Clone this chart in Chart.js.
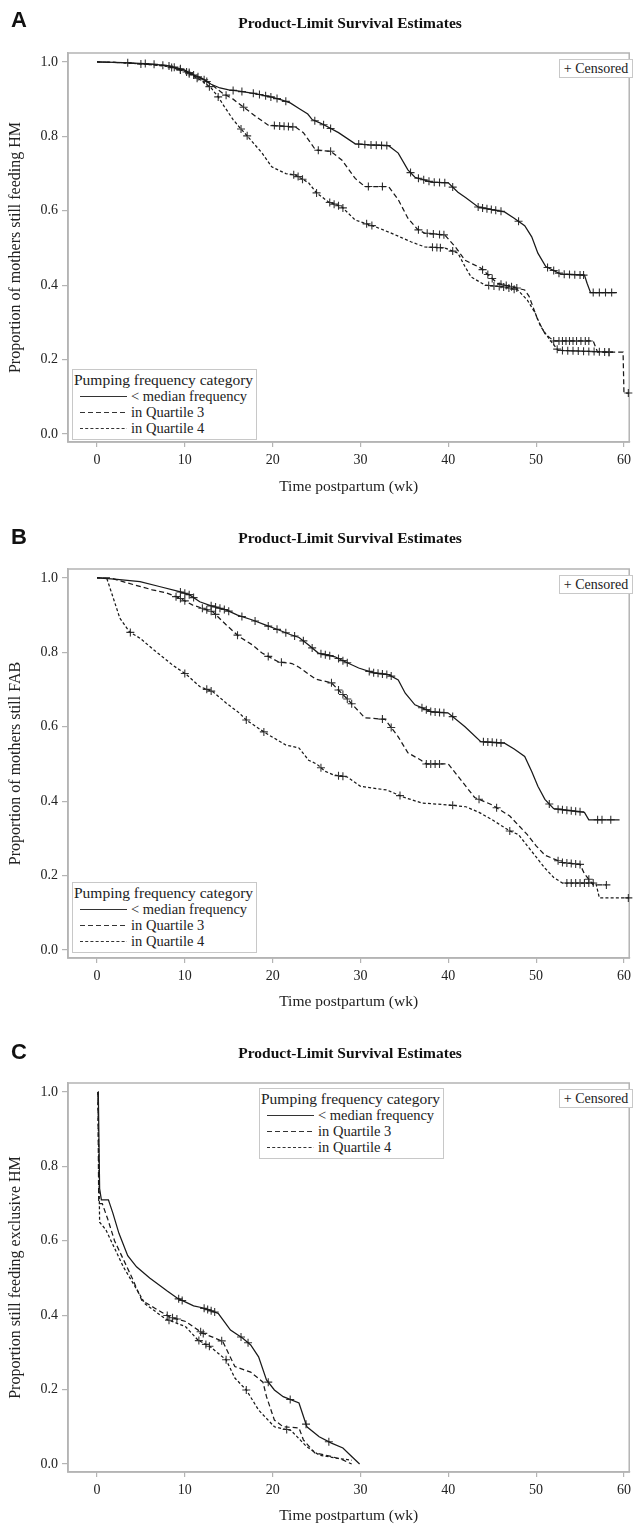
<!DOCTYPE html>
<html>
<head>
<meta charset="utf-8">
<script src="https://cdn.jsdelivr.net/npm/chart.js@4.4.1/dist/chart.umd.min.js"></script>
<style>
  html, body { margin: 0; padding: 0; background: #fff; }
  #page { position: relative; width: 636px; height: 1525px; overflow: hidden; }
  .panel { position: absolute; left: 0; width: 636px; }
  .panel canvas { position: absolute; left: 0; top: 0; }
  .letter { position: absolute; left: 11px; font: bold 22px "Liberation Sans", Arial, sans-serif; color: #111; line-height: 24px; }
  .title { position: absolute; left: 150px; width: 400px; text-align: center; font: bold 15.5px "Liberation Serif", serif; color: #111; line-height: 18px; }
  .censbox { position: absolute; left: 559px; width: 72px; height: 17px; border: 1px solid #c8c8c8; background: #fff;
             font: 14px "Liberation Serif", serif; color: #222; line-height: 17px; text-align: center; }
  .legend { position: absolute; width: 183px; height: 69px; border: 1px solid #c8c8c8; background: #fff;
            font: 14.5px "Liberation Serif", serif; color: #222; }
  .legend .lt { position: absolute; left: 1px; top: 2px; font-size: 15.5px; line-height: 16px; white-space: nowrap; }
  .legend .row { position: absolute; left: 6px; height: 16px; line-height: 16px; white-space: nowrap; }
  .legend svg { position: absolute; left: 0; top: 0; }
  .legend .row span { position: absolute; left: 52px; top: 0; }
</style>
</head>
<body>
<div id="page"></div>
<script>
// Product-Limit Survival Estimates, three panels (A: any HM, B: FAB, C: exclusive HM)

const groupNames = ['< median frequency', 'in Quartile 3', 'in Quartile 4'];
const xTicks = [0, 10, 20, 30, 40, 50, 60];
const yTicks = [0, 0.2, 0.4, 0.6, 0.8, 1.0];

// Panel A - still feeding HM
const timeA1 = [0, 3, 6, 8, 9, 10, 11, 12, 13, 14, 15, 16, 18, 20, 21, 22, 23, 24, 24.5, 25.5, 27.5, 29.4, 31, 33.2, 34.3, 35.4, 36.2, 38.1, 40, 41.1, 42, 43.4, 44.5, 46.4, 47.5, 48.7, 49.5, 50.2, 51.1, 52.8, 55.5, 55.8, 56.2, 59.2];
const survA1 = [1, 0.998, 0.995, 0.99, 0.985, 0.978, 0.965, 0.955, 0.94, 0.93, 0.925, 0.922, 0.915, 0.905, 0.898, 0.89, 0.875, 0.86, 0.845, 0.835, 0.81, 0.78, 0.777, 0.775, 0.755, 0.71, 0.69, 0.677, 0.675, 0.65, 0.635, 0.61, 0.605, 0.597, 0.58, 0.56, 0.53, 0.486, 0.45, 0.43, 0.427, 0.405, 0.38, 0.38];
const timeA2 = [0, 3, 6, 8, 10, 11, 12, 13, 14.3, 15.5, 16.6, 18, 19.5, 22.6, 23.5, 24.9, 26.6, 27.9, 29.4, 30.5, 33.2, 34.3, 35.4, 36.5, 37.3, 39.6, 40.8, 41.9, 43.7, 45.6, 48.7, 49.2, 50.2, 51, 52, 56.5, 57, 59.9, 60, 60.6];
const survA2 = [1, 0.998, 0.993, 0.99, 0.975, 0.965, 0.955, 0.94, 0.916, 0.9, 0.88, 0.855, 0.83, 0.825, 0.81, 0.763, 0.76, 0.736, 0.687, 0.665, 0.665, 0.63, 0.58, 0.55, 0.54, 0.535, 0.503, 0.467, 0.446, 0.405, 0.387, 0.37, 0.306, 0.27, 0.25, 0.25, 0.22, 0.22, 0.11, 0.11];
const timeA3 = [0, 3, 6, 8, 10, 11, 12, 13, 13.8, 14.5, 15.5, 16.2, 17, 18.8, 19.9, 21.5, 22.6, 24.1, 25, 26.4, 27.9, 29.4, 31.7, 33.5, 35.8, 37.3, 39.6, 41.1, 41.9, 42.6, 44.2, 46.4, 47.9, 49, 49.9, 50.5, 51.5, 52.5, 58.3];
const survA3 = [1, 0.998, 0.993, 0.988, 0.975, 0.962, 0.948, 0.93, 0.906, 0.88, 0.845, 0.825, 0.804, 0.755, 0.718, 0.7, 0.696, 0.675, 0.648, 0.623, 0.61, 0.575, 0.557, 0.54, 0.516, 0.503, 0.5, 0.486, 0.45, 0.422, 0.4, 0.395, 0.387, 0.36, 0.325, 0.29, 0.255, 0.225, 0.22];
const censA1 = [3.5, 5.5, 6.5, 7.5, 8.2, 8.8, 9.5, 10.5, 11.5, 12.2, 15.5, 16.5, 17.8, 18.5, 19.2, 19.8, 20.5, 21.5, 24.8, 25.8, 26.6, 29.8, 30.5, 31.2, 31.8, 32.4, 33, 35.7, 36.6, 37.2, 37.8, 38.4, 39, 39.6, 40.5, 43.4, 43.9, 44.4, 44.9, 45.4, 46, 48, 51.3, 52, 52.6, 53.2, 53.8, 54.4, 55, 55.4, 56.5, 57.2, 57.9, 58.6];
const censA2 = [5, 9.5, 10.2, 11, 12.5, 14.7, 16.7, 20.2, 20.8, 21.3, 21.8, 22.3, 25.2, 26.6, 30.9, 32.5, 36.6, 37.6, 38.3, 39, 39.5, 43.9, 44.5, 45, 46, 46.6, 47.2, 47.8, 52, 52.6, 53, 53.4, 53.8, 54.2, 54.6, 55.1, 55.6, 56, 58.3, 60.5];
const censA3 = [8.5, 9.5, 10.5, 11.4, 12.8, 13.8, 16.4, 17.1, 22.4, 22.9, 23.4, 25, 26.5, 27, 27.5, 28, 30.7, 31.3, 38.2, 38.7, 39.1, 40.5, 44.6, 45.2, 45.8, 46.3, 46.9, 47.5, 52.4, 53, 53.6, 54.2, 54.8, 55.4, 56, 56.6, 57.2, 57.8, 58.3];

// Panel B - still FAB
const timeB1 = [0, 2, 4.9, 7.1, 9.4, 10.5, 11.7, 13, 14.7, 16, 17.7, 19, 20.7, 22, 23, 24.1, 25.2, 27.1, 28.5, 29.8, 31.5, 33.2, 34.3, 35.1, 36.2, 38.1, 40, 41.9, 43.7, 46.4, 47.5, 48.7, 49.5, 50.2, 51, 52, 55.5, 56, 59.5];
const survB1 = [1, 0.997, 0.99, 0.977, 0.963, 0.955, 0.936, 0.925, 0.914, 0.9, 0.887, 0.875, 0.86, 0.848, 0.84, 0.82, 0.798, 0.788, 0.772, 0.758, 0.745, 0.74, 0.726, 0.69, 0.659, 0.64, 0.637, 0.6, 0.56, 0.556, 0.54, 0.52, 0.48, 0.44, 0.405, 0.38, 0.37, 0.35, 0.35];
const timeB2 = [0, 1.5, 3.4, 6.3, 7.9, 9.4, 10.9, 13.2, 14.7, 16.2, 17.7, 18.8, 20.7, 22.2, 23, 24.9, 26.7, 28.6, 30.5, 32.8, 34.3, 35.4, 36.9, 37.5, 40, 41, 43, 45, 47, 48, 49, 50, 51, 52, 53, 55, 55.5, 56, 56.5, 58];
const survB2 = [1, 1, 0.987, 0.968, 0.96, 0.946, 0.927, 0.909, 0.874, 0.842, 0.82, 0.798, 0.774, 0.77, 0.76, 0.728, 0.718, 0.672, 0.624, 0.62, 0.573, 0.53, 0.51, 0.5, 0.5, 0.47, 0.41, 0.39, 0.36, 0.335, 0.31, 0.28, 0.255, 0.245, 0.235, 0.23, 0.205, 0.19, 0.175, 0.175];
const timeB3 = [0, 1.1, 1.8, 2.6, 3.7, 4.9, 6.3, 8.6, 10.2, 11.7, 13.2, 14.7, 16.2, 17, 19.2, 21.5, 23, 24.1, 25, 26, 27, 28.5, 30, 33, 35, 37, 40, 42, 43.5, 45, 47, 48, 49, 50, 51, 52, 53, 56.8, 57.2, 60.6];
const survB3 = [1, 1, 0.95, 0.892, 0.855, 0.838, 0.81, 0.766, 0.74, 0.708, 0.694, 0.664, 0.637, 0.618, 0.583, 0.551, 0.543, 0.51, 0.5, 0.48, 0.47, 0.465, 0.44, 0.43, 0.41, 0.395, 0.39, 0.385, 0.37, 0.35, 0.32, 0.31, 0.28, 0.25, 0.22, 0.195, 0.18, 0.18, 0.14, 0.14];
const censB1 = [9.5, 10, 10.5, 11, 13, 13.5, 14, 14.5, 15, 16.5, 18, 19.5, 20.5, 21.5, 22.5, 23.5, 24.5, 25.5, 26, 26.5, 27.5, 28, 28.5, 31, 31.5, 32, 32.5, 33, 33.5, 37, 37.5, 38, 38.5, 39, 39.5, 40.5, 44, 44.5, 45, 45.5, 46, 51.5, 52.5, 53, 53.5, 54, 54.5, 55, 57, 57.5, 58.5];
const censB2 = [9, 9.5, 10, 12, 12.5, 13, 13.5, 16, 19.5, 21, 26.7, 27.5, 28, 28.5, 29, 32.5, 33.5, 37.5, 38, 38.5, 39, 43.5, 45.5, 52.5, 53, 53.5, 54, 54.5, 55, 56, 58];
const censB3 = [3.8, 10, 12.5, 13, 17, 19, 25.5, 27.5, 28, 34.5, 40.5, 47, 53.5, 54, 54.5, 55, 55.5, 56, 56.5, 60.5];

// Panel C - still feeding exclusive HM
const timeC1 = [0.1, 0.15, 0.3, 0.5, 1.3, 1.8, 2.5, 3.5, 4.5, 6, 8, 9.2, 11, 12, 13.8, 15.2, 16.6, 17.5, 18.4, 19.3, 20.2, 21.2, 23, 23.9, 25.3, 26.7, 28, 29, 29.9];
const survC1 = [1, 1, 0.74, 0.71, 0.71, 0.675, 0.62, 0.56, 0.53, 0.5, 0.465, 0.445, 0.425, 0.42, 0.405, 0.36, 0.338, 0.32, 0.288, 0.226, 0.199, 0.181, 0.164, 0.1, 0.073, 0.056, 0.043, 0.02, 0];
const timeC2 = [0.1, 0.2, 0.6, 1.2, 2, 3, 4, 5.1, 6.5, 8.3, 10.1, 12, 14.3, 15.7, 17.5, 18.9, 19.3, 20.2, 21.2, 23, 23.5, 24.8, 26.7, 28, 29];
const survC2 = [1, 0.7, 0.7, 0.66, 0.6, 0.55, 0.5, 0.44, 0.42, 0.395, 0.383, 0.352, 0.33, 0.262, 0.247, 0.22, 0.181, 0.118, 0.1, 0.097, 0.065, 0.03, 0.02, 0.011, 0];
const timeC3 = [0.1, 0.3, 1, 2, 3, 4, 5.5, 7.8, 10.1, 11.5, 12.9, 14.7, 15.7, 17, 18.4, 20.2, 22.1, 23.9, 25.3, 27.2, 29];
const survC3 = [1, 0.65, 0.63, 0.58, 0.53, 0.49, 0.43, 0.39, 0.369, 0.333, 0.315, 0.28, 0.231, 0.199, 0.145, 0.1, 0.09, 0.046, 0.024, 0.016, 0.01];
const censC1 = [9.3, 9.7, 12.2, 12.6, 13, 13.4, 16.4, 17.2, 19.5, 22, 23.8, 26.4];
const censC2 = [8, 8.6, 9.1, 11.8, 12.1, 14.2];
const censC3 = [8.2, 11.6, 12.4, 12.8, 14.7, 17, 21.6];

Chart.defaults.font.family = "'Liberation Serif', 'Times New Roman', serif";
Chart.defaults.color = '#222';

const lineDash = [[], [5, 3], [3, 2.2]];
const serif = "'Liberation Serif', 'Times New Roman', serif";

function toPoints(t, s) {
    return t.map((x, i) => ({ x: x, y: s[i] }));
}

// put each censoring mark on its own curve
function onCurve(times, t, s) {
    return times.map(function(c) {
        let i = 0;
        while (i < t.length - 2 && t[i + 1] < c) i++;
        const f = t[i + 1] === t[i] ? 0 : Math.min(1, Math.max(0, (c - t[i]) / (t[i + 1] - t[i])));
        return { x: c, y: s[i] + f * (s[i + 1] - s[i]) };
    });
}

const framePlugin = {
    id: 'frame',
    beforeDatasetsDraw(chart) {
        const a = chart.chartArea;
        const ctx = chart.ctx;
        ctx.save();
        ctx.strokeStyle = '#b4b4b4';
        ctx.lineWidth = 1.5;
        ctx.strokeRect(a.left, a.top, a.right - a.left, a.bottom - a.top);
        ctx.restore();
    }
};

function makePanel(p) {
    const page = document.getElementById('page');
    const panel = document.createElement('div');
    panel.className = 'panel';
    panel.style.top = p.top + 'px';
    panel.style.height = p.height + 'px';
    page.appendChild(panel);

    const canvas = document.createElement('canvas');
    canvas.width = 636;
    canvas.height = p.height;
    panel.appendChild(canvas);

    const letter = document.createElement('div');
    letter.className = 'letter';
    letter.style.top = (p.letterY - 12) + 'px';
    letter.textContent = p.letter;
    panel.appendChild(letter);

    const title = document.createElement('div');
    title.className = 'title';
    title.style.top = (p.titleY - 9) + 'px';
    title.textContent = 'Product-Limit Survival Estimates';
    panel.appendChild(title);

    const cens = document.createElement('div');
    cens.className = 'censbox';
    cens.style.top = '59px';
    cens.textContent = '+ Censored';
    panel.appendChild(cens);

    // SAS style legend box inside the plot
    const leg = document.createElement('div');
    leg.className = 'legend';
    leg.style.left = p.legLeft + 'px';
    leg.style.top = p.legTop + 'px';
    const lt = document.createElement('div');
    lt.className = 'lt';
    lt.textContent = 'Pumping frequency category';
    leg.appendChild(lt);
    groupNames.forEach(function(name, i) {
        const row = document.createElement('div');
        row.className = 'row';
        row.style.top = (18 + i * 16) + 'px';
        row.innerHTML = '<svg width="48" height="16"><line x1="1" y1="8.5" x2="48" y2="8.5" stroke="#333" stroke-width="1.2" stroke-dasharray="' +
            lineDash[i].join(',') + '"/></svg>';
        const sp = document.createElement('span');
        sp.textContent = name;
        row.appendChild(sp);
        leg.appendChild(row);
    });
    panel.appendChild(leg);

    const datasets = [];
    p.curves.forEach(function(c, i) {
        datasets.push({
            label: groupNames[i],
            data: toPoints(c[0], c[1]),
            borderColor: '#1a1a1a',
            borderWidth: 1.25,
            borderDash: lineDash[i],
            pointRadius: 0,
            tension: 0,
            fill: false
        });
    });
    p.curves.forEach(function(c, i) {
        datasets.push({
            label: 'Censored',
            data: onCurve(c[2], c[0], c[1]),
            showLine: false,
            pointStyle: 'cross',
            pointRadius: 4,
            borderColor: '#333',
            borderWidth: 1.1,
            clip: 6
        });
    });

    new Chart(canvas, {
        type: 'line',
        data: { datasets: datasets },
        options: {
            responsive: false,
            animation: false,
            events: [],
            layout: { padding: { top: 53, right: 4, left: 0, bottom: 0 } },
            plugins: {
                legend: { display: false },
                tooltip: { enabled: false }
            },
            scales: {
                x: {
                    type: 'linear',
                    min: -3.3,
                    max: 60.6,
                    afterBuildTicks: function(s) { s.ticks = xTicks.map(v => ({ value: v })); },
                    afterFit: function(s) { s.height = p.height - 442; },
                    grid: { drawOnChartArea: false, color: '#b4b4b4', tickLength: 5, lineWidth: 1.2 },
                    border: { color: '#b4b4b4', width: 1.5 },
                    ticks: { font: { size: 14 }, color: '#222', padding: 5, maxRotation: 0 },
                    title: {
                        display: true,
                        text: 'Time postpartum (wk)',
                        font: { size: 15.5, family: serif },
                        color: '#222',
                        padding: { top: 0, bottom: p.xTitlePad }
                    }
                },
                y: {
                    type: 'linear',
                    min: -0.0215,
                    max: 1.024,
                    afterBuildTicks: function(s) { s.ticks = yTicks.map(v => ({ value: v })); },
                    afterFit: function(s) { s.width = 68; },
                    grid: { drawOnChartArea: false, color: '#b4b4b4', tickLength: 6, lineWidth: 1.2 },
                    border: { color: '#b4b4b4', width: 1.5 },
                    ticks: {
                        font: { size: 14 },
                        color: '#222',
                        padding: 4,
                        callback: function(v) { return Number(v).toFixed(1); }
                    },
                    title: {
                        display: true,
                        text: p.yTitle,
                        font: { size: 16, family: serif },
                        color: '#222',
                        padding: { top: 6, bottom: 0 }
                    }
                }
            }
        },
        plugins: [framePlugin]
    });
}

document.addEventListener('DOMContentLoaded', function() {
    makePanel({
        letter: 'A', top: 0, height: 516, letterY: 20, titleY: 23, xTitlePad: 20,
        yTitle: 'Proportion of mothers still feeding HM',
        legLeft: 72, legTop: 369,
        curves: [[timeA1, survA1, censA1], [timeA2, survA2, censA2], [timeA3, survA3, censA3]]
    });
    makePanel({
        letter: 'B', top: 516, height: 514, letterY: 21, titleY: 22, xTitlePad: 19,
        yTitle: 'Proportion of mothers still FAB',
        legLeft: 72, legTop: 366,
        curves: [[timeB1, survB1, censB1], [timeB2, survB2, censB2], [timeB3, survB3, censB3]]
    });
    makePanel({
        letter: 'C', top: 1030, height: 495, letterY: 22, titleY: 23, xTitlePad: 0,
        yTitle: 'Proportion still feeding exclusive HM',
        legLeft: 259, legTop: 58,
        curves: [[timeC1, survC1, censC1], [timeC2, survC2, censC2], [timeC3, survC3, censC3]]
    });
});
</script>
</body>
</html>
